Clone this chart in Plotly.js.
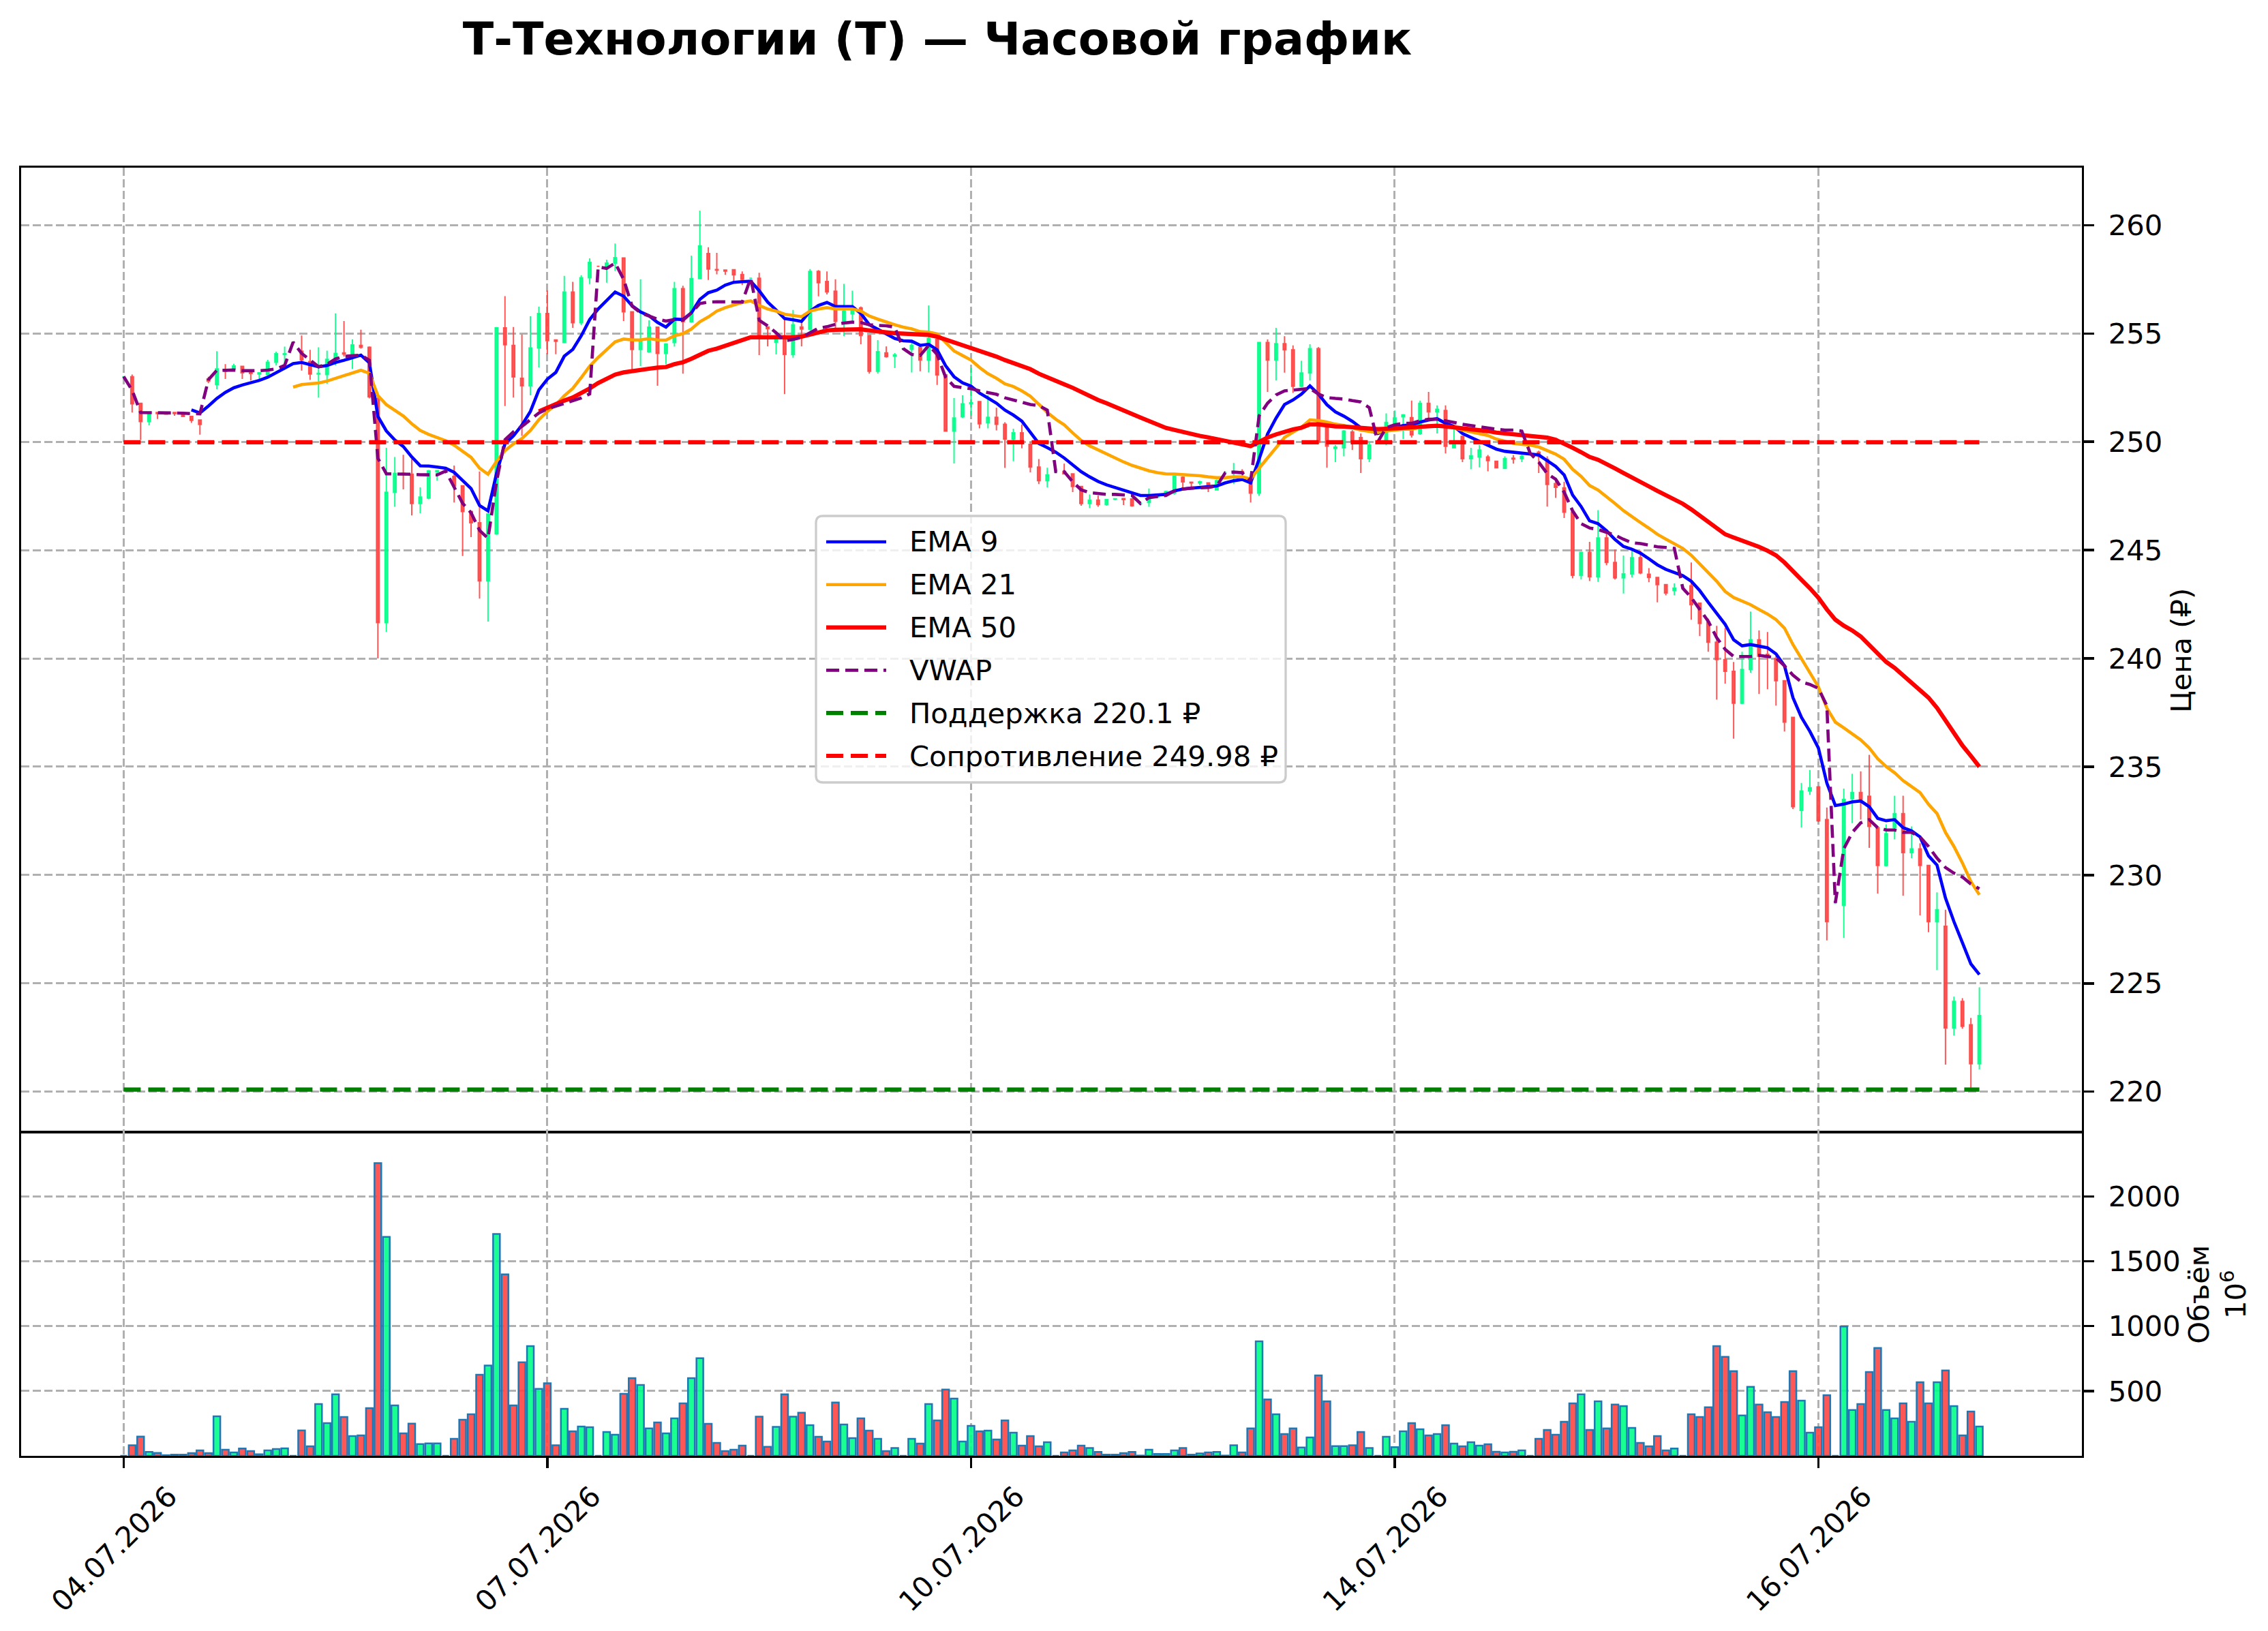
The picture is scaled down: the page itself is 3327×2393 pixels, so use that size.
<!DOCTYPE html>
<html><head><meta charset="utf-8">
<script src="https://cdn.plot.ly/plotly-3.0.1.min.js"></script>
<style>html,body{margin:0;padding:0;background:#fff}#chart{width:3327px;height:2393px}</style>
</head><body><div id="chart"></div>
<script>
// ---------------- DATA ----------------
const tickIndex = [0, 50, 100, 150, 200];
const tickLabels = ['04.07.2026', '07.07.2026', '10.07.2026', '14.07.2026', '16.07.2026'];
const priceTicks = [220, 225, 230, 235, 240, 245, 250, 255, 260];
const volumeTicks = [500, 1000, 1500, 2000];

const openP = [253.0,253.0,251.77,250.93,251.35,251.33,251.35,251.3,251.17,251.0,
252.9,252.64,253.3,253.36,253.48,253.2,253.13,253.1,253.67,254.03,
254.6,254.18,253.7,253.13,253.1,253.8,254.1,254.06,254.45,254.36,
252.0,241.65,247.67,248.54,248.5,247.15,247.4,248.62,248.6,248.4,
247.97,246.78,246.26,243.58,245.75,255.26,254.45,252.93,252.58,254.33,
255.92,254.7,254.58,256.91,255.49,257.57,258.1,258.09,258.25,258.48,
256.0,254.26,254.16,255.29,254.08,254.58,257.07,255.54,257.53,258.69,
257.95,257.92,257.94,257.72,257.55,257.55,255.3,254.6,254.87,254.03,
255.3,255.19,257.86,257.4,256.95,255.56,255.9,256.18,254.9,253.25,
254.1,253.95,254.3,254.27,254.35,253.77,254.72,253.09,250.49,251.15,
251.76,251.85,250.88,251.13,250.81,250.12,250.41,249.88,248.83,248.2,
248.62,248.63,248.52,247.94,247.15,247.31,247.1,247.35,247.38,247.36,
247.15,247.2,247.45,247.65,247.63,248.36,248.13,248.1,248.1,247.78,
248.57,248.55,248.63,248.1,247.63,254.58,253.77,254.53,254.24,252.56,
253.17,254.3,250.65,249.7,249.72,250.45,250.19,249.22,249.95,249.99,
250.85,251.15,251.11,250.38,251.77,251.38,251.44,249.72,250.25,249.22,
249.3,249.3,249.1,248.77,249.24,249.22,249.46,249.52,249.19,248.07,
247.87,246.75,243.84,244.89,243.77,245.56,244.43,243.72,243.9,244.65,
243.89,243.74,243.41,243.13,243.3,243.35,242.55,241.68,240.75,239.95,
239.4,237.93,239.49,240.86,240.19,239.99,238.97,237.28,232.99,233.88,
234.07,232.56,228.7,228.61,233.53,233.81,233.64,232.19,230.45,232.19,
232.84,231.04,231.21,230.45,227.85,227.64,222.94,224.17,223.09,221.29];

const highP = [253.0,253.1,251.8,251.3,251.38,251.36,251.37,251.33,251.2,251.03,
253.0,254.18,253.58,253.6,253.5,253.22,253.2,253.78,254.16,254.39,
254.6,254.9,254.24,254.36,254.2,255.93,255.57,254.72,255.17,254.4,
252.1,249.72,249.3,249.4,249.2,247.9,248.7,248.7,248.6,248.9,
248.0,246.8,248.63,246.7,255.3,256.72,255.3,254.95,255.79,256.23,
256.98,254.7,257.66,257.38,257.69,258.47,258.1,258.4,259.15,258.5,
256.0,257.5,255.6,255.3,254.55,257.38,257.2,258.59,260.67,258.98,
258.72,257.95,257.95,257.86,257.55,257.8,255.32,254.98,255.66,256.08,
255.6,257.97,257.92,257.86,257.5,257.29,256.97,256.24,254.9,254.69,
254.4,254.09,254.3,254.56,254.45,256.29,254.98,253.1,252.02,252.14,
253.4,251.88,252.15,251.57,250.9,250.6,250.8,249.99,249.2,248.8,
248.62,248.99,248.55,247.96,247.57,247.52,247.36,247.4,247.4,247.38,
247.15,247.84,247.5,247.74,248.41,248.41,248.15,248.2,248.12,248.26,
248.57,249.02,248.73,248.26,254.61,254.72,255.26,254.87,254.45,253.74,
254.5,254.37,250.65,249.85,250.54,250.54,250.38,249.99,249.95,251.31,
251.44,251.28,251.9,251.9,252.3,251.68,251.68,250.71,250.26,249.72,
249.85,249.39,249.12,249.33,249.38,249.39,249.46,249.59,249.33,248.27,
248.16,246.77,244.9,245.38,246.84,245.75,245.03,244.75,244.97,244.97,
244.17,243.76,243.43,243.46,243.3,244.43,242.56,241.83,241.5,241.4,
239.84,240.31,242.16,241.29,241.22,240.1,238.99,237.28,234.25,234.85,
234.07,233.12,228.7,233.99,234.68,234.79,235.55,232.2,232.34,233.66,
233.66,232.25,231.47,230.46,229.2,228.4,224.39,224.32,223.41,224.82];

const lowP = [253.0,251.35,250.08,250.75,251.05,251.25,251.2,251.15,250.87,250.33,
252.7,252.43,252.9,253.3,252.9,252.83,252.9,253.04,253.52,253.58,
254.6,253.28,252.86,252.04,252.67,253.52,253.94,253.36,254.3,252.0,
240.0,241.23,247.0,247.8,246.6,246.7,247.35,248.2,248.6,247.2,
244.73,245.6,242.76,241.7,245.7,251.65,252.04,250.27,252.14,253.43,
254.04,254.04,254.58,255.26,255.39,257.28,258.1,257.34,257.88,255.57,
253.33,253.5,254.1,252.58,253.58,254.39,253.14,255.49,257.5,257.47,
257.73,257.7,257.4,257.23,257.55,254.0,254.4,254.03,252.2,253.88,
254.4,255.14,256.71,256.8,255.17,254.87,255.5,254.5,253.14,253.14,
253.88,253.4,254.3,253.2,253.25,253.2,252.62,250.47,249.0,251.1,
251.2,250.62,250.62,250.52,248.79,249.1,249.7,248.59,248.05,247.9,
248.62,248.5,247.68,247.05,246.94,247.0,247.05,247.3,247.08,247.0,
247.15,247.0,247.4,247.6,247.57,247.84,247.84,248.0,247.68,247.75,
248.57,248.05,248.42,247.2,247.5,252.3,252.83,253.19,252.25,252.51,
252.83,249.9,248.8,249.06,249.33,249.62,248.56,249.06,249.95,249.85,
250.8,250.12,250.19,250.32,251.05,250.38,249.46,249.7,249.06,248.73,
248.82,248.64,248.77,248.75,248.99,249.06,249.46,248.56,247.01,247.41,
246.48,243.7,243.64,243.57,243.53,244.3,243.64,243.0,243.74,243.89,
243.52,242.59,242.91,242.91,243.3,241.79,241.03,240.31,238.1,238.84,
236.3,237.89,239.34,238.36,238.58,237.82,236.63,233.05,232.19,233.7,
232.45,226.99,228.7,227.1,232.4,232.56,231.26,229.15,230.4,231.65,
229.05,230.78,228.14,227.36,225.62,221.25,222.59,222.91,220.16,221.03];

const closeP = [253.0,251.75,250.93,251.3,251.3,251.28,251.3,251.17,250.99,250.8,
252.8,253.36,253.25,253.5,253.18,253.15,253.18,253.67,254.06,254.06,
254.6,253.78,253.13,253.16,253.8,254.08,254.05,254.47,254.36,252.07,
241.65,247.67,248.54,248.5,247.15,247.45,248.65,248.67,248.6,247.97,
246.78,246.26,243.58,246.66,255.26,254.48,252.99,252.58,254.33,255.92,
254.67,254.64,256.91,255.49,257.57,258.28,258.1,258.25,258.5,256.0,
254.26,254.7,255.29,254.08,254.51,257.07,255.54,257.53,259.04,257.97,
257.92,257.88,257.7,257.5,257.55,254.87,255.22,254.7,254.03,255.4,
255.2,257.86,257.34,256.92,255.56,256.03,256.1,254.9,253.25,254.16,
253.93,254.01,254.3,254.45,253.77,254.77,253.09,250.49,251.1,251.75,
251.8,250.83,251.13,250.81,250.12,250.41,250.02,248.83,248.2,248.47,
248.62,248.52,247.94,247.15,247.31,247.1,247.33,247.37,247.33,247.05,
247.15,247.47,247.5,247.7,248.41,248.15,248.1,248.15,247.94,248.2,
248.57,248.6,248.58,247.63,254.58,253.77,254.53,254.24,252.56,253.17,
254.3,249.99,249.8,249.75,250.49,249.99,249.22,249.85,249.95,250.89,
251.1,251.24,250.32,251.77,251.38,251.5,249.79,249.85,249.22,249.35,
249.62,249.13,248.8,249.22,249.2,249.33,249.46,249.33,248.03,247.9,
246.75,243.84,244.89,243.77,245.56,244.43,243.72,243.9,244.65,243.95,
243.74,243.41,243.02,243.24,243.3,242.48,241.61,240.75,239.95,239.4,
237.93,239.49,240.86,240.1,240.1,238.97,237.06,233.16,233.88,234.03,
232.51,227.85,228.7,233.49,233.81,233.49,232.25,230.45,231.91,232.84,
231.04,231.21,230.45,227.85,228.4,222.94,224.17,223.02,221.29,223.52];

// volume, millions
const volumeM = [0,82,149,30,23,5,9,9,21,42,
21,305,47,26,56,37,12,42,53,58,
0,196,74,400,253,474,300,153,158,368,
2258,1689,389,174,249,91,96,96,0,132,
279,321,626,696,1711,1400,389,721,847,516,
560,82,363,189,226,221,0,184,163,479,
600,547,211,258,174,289,405,600,753,247,
100,37,47,79,0,302,70,223,474,302,
332,237,147,111,411,242,137,289,195,132,
37,61,0,132,95,400,274,511,442,111,
232,189,195,126,274,179,79,153,74,105,
0,26,42,79,61,30,9,9,21,30,
2,47,14,14,42,61,9,19,26,30,
2,82,26,211,883,435,321,168,211,65,
142,621,421,75,75,82,184,61,0,147,
67,189,253,205,158,168,237,95,74,105,
79,89,32,26,32,42,0,132,200,163,
263,405,474,200,421,211,395,384,216,100,
74,153,42,56,0,321,300,374,847,763,
653,311,532,395,337,300,416,653,426,179,
221,468,0,998,353,400,647,832,353,289,
405,263,568,405,568,658,384,158,342,226];

const ema9Start = 8;
const ema9 = [251.47,251.33,
251.65,252.0,252.28,252.49,252.62,252.73,252.83,252.98,253.2,253.4,
253.61,253.66,253.55,253.46,253.52,253.66,253.76,253.88,254.0,253.64,
251.17,250.5,250.08,249.78,249.3,248.89,248.88,248.83,248.78,248.59,
248.22,247.84,247.06,246.81,248.53,249.9,250.27,250.77,251.4,252.39,
252.89,253.2,253.95,254.26,254.89,255.64,256.13,256.51,256.91,256.72,
256.28,255.99,255.82,255.51,255.29,255.66,255.64,255.95,256.57,256.88,
257.0,257.23,257.36,257.39,257.41,256.97,256.45,256.08,255.69,255.63,
255.56,256.03,256.29,256.43,256.24,256.24,256.24,255.92,255.4,255.19,
254.98,254.77,254.66,254.64,254.45,254.5,254.24,253.51,253.0,252.72,
252.57,252.25,252.02,251.78,251.46,251.23,250.95,250.46,249.92,249.73,
249.52,249.25,248.94,248.62,248.38,248.17,248.01,247.89,247.76,247.63,
247.52,247.52,247.54,247.57,247.73,247.82,247.86,247.89,247.91,247.96,
248.1,248.2,248.26,248.1,249.2,250.36,251.09,251.72,251.93,252.2,
252.58,252.2,251.71,251.38,251.18,250.94,250.65,250.52,250.38,250.52,
250.65,250.75,250.78,250.91,251.0,251.07,250.85,250.71,250.38,250.19,
250.01,249.85,249.66,249.56,249.52,249.48,249.46,249.39,249.13,248.86,
248.47,247.54,247.01,246.35,246.22,245.89,245.49,245.17,245.04,244.86,
244.6,244.32,244.11,243.95,243.82,243.56,243.13,242.59,242.09,241.57,
240.86,240.58,240.64,240.58,240.49,240.21,239.66,238.19,237.28,236.63,
235.87,234.25,233.21,233.28,233.38,233.42,233.16,232.62,232.51,232.56,
232.19,232.04,231.76,230.89,230.46,228.94,227.85,226.88,225.9,225.41];

const ema21Start = 20;
const ema21 = [252.52,252.64,252.68,252.71,252.8,252.92,253.04,253.17,253.3,253.16,
252.13,251.71,251.47,251.19,250.83,250.52,250.34,250.21,250.05,249.84,
249.55,249.28,248.78,248.5,249.09,249.59,249.9,250.15,250.52,251.02,
251.4,251.71,252.12,252.46,252.96,253.49,253.89,254.26,254.61,254.74,
254.7,254.7,254.76,254.7,254.69,254.89,254.99,255.2,255.54,255.76,
256.03,256.19,256.32,256.43,256.5,256.29,256.13,256.03,255.89,255.84,
255.77,256.03,256.13,256.19,256.13,256.13,256.13,256.03,255.8,255.66,
255.52,255.4,255.29,255.21,255.08,255.06,254.98,254.58,254.19,253.98,
253.77,253.43,253.14,252.93,252.67,252.55,252.35,252.1,251.72,251.36,
251.04,250.78,250.41,250.06,249.81,249.62,249.41,249.22,249.07,248.91,
248.78,248.66,248.57,248.52,248.51,248.49,248.47,248.43,248.38,248.34,
248.34,248.38,248.38,248.28,248.78,249.25,249.73,250.2,250.44,250.67,
251.01,250.98,250.91,250.81,250.75,250.65,250.54,250.48,250.42,250.49,
250.54,250.58,250.58,250.67,250.74,250.75,250.7,250.65,250.54,250.45,
250.38,250.29,250.12,250.01,249.93,249.88,249.85,249.76,249.59,249.43,
249.19,248.73,248.4,247.98,247.77,247.48,247.15,246.82,246.53,246.27,
246.01,245.73,245.51,245.3,245.08,244.76,244.37,243.95,243.56,243.09,
242.81,242.65,242.48,242.26,242.05,241.79,241.4,240.64,239.99,239.34,
238.69,237.71,237.06,236.8,236.52,236.24,235.87,235.37,235.01,234.72,
234.36,234.07,233.81,233.27,232.84,231.97,231.32,230.56,229.7,229.09];

const ema50Start = 49;
const ema50 = [251.4,
251.58,251.71,251.9,252.04,252.24,252.46,252.71,252.89,253.1,253.2,
253.27,253.3,253.37,253.42,253.45,253.58,253.67,253.83,254.04,254.2,
254.3,254.43,254.58,254.72,254.82,254.82,254.82,254.82,254.8,254.82,
254.85,254.96,255.06,255.14,255.17,255.19,255.21,255.19,255.14,255.08,
255.05,255.01,254.98,254.96,254.93,254.93,254.85,254.72,254.58,254.45,
254.35,254.19,254.06,253.93,253.77,253.64,253.5,253.35,253.14,252.96,
252.8,252.65,252.49,252.3,252.09,251.93,251.78,251.6,251.44,251.28,
251.12,250.97,250.8,250.64,250.55,250.44,250.36,250.27,250.2,250.12,
250.04,249.96,249.88,249.8,249.99,250.2,250.34,250.48,250.57,250.65,
250.8,250.8,250.75,250.71,250.7,250.67,250.62,250.58,250.58,250.6,
250.62,250.65,250.65,250.69,250.71,250.74,250.71,250.67,250.62,250.58,
250.54,250.49,250.42,250.38,250.34,250.3,250.28,250.25,250.19,250.09,
249.92,249.72,249.52,249.3,249.17,248.99,248.77,248.56,248.37,248.16,
247.94,247.73,247.53,247.36,247.14,246.88,246.6,246.34,246.06,245.73,
245.58,245.45,245.3,245.15,244.97,244.76,244.43,244.0,243.63,243.24,
242.8,242.26,241.79,241.51,241.29,241.01,240.64,240.21,239.84,239.56,
239.23,238.91,238.58,238.19,237.72,237.11,236.52,235.98,235.5,235.0];

const vwap = [253.01,252.37,251.35,251.35,251.32,251.32,251.32,251.32,251.3,251.29,
252.86,253.3,253.3,253.31,253.28,253.27,253.28,253.31,253.36,253.52,
254.6,254.08,253.76,253.46,253.58,253.82,253.94,253.96,254.0,253.76,
249.24,248.52,248.52,248.52,248.5,248.48,248.47,248.47,248.65,247.9,
247.16,246.72,245.91,245.54,248.15,250.09,250.46,250.71,251.02,251.33,
251.52,251.65,251.77,251.9,252.02,252.21,258.07,258.0,258.25,257.5,
256.26,255.95,255.82,255.66,255.57,255.64,255.61,255.95,256.38,256.45,
256.46,256.45,256.45,256.45,257.55,255.61,255.35,255.03,254.66,254.72,
254.82,255.03,255.24,255.31,255.42,255.48,255.52,255.5,255.4,255.37,
255.35,255.29,254.3,254.03,253.98,254.45,254.03,252.98,252.56,252.5,
252.45,252.35,252.26,252.19,252.03,251.93,251.84,251.72,251.67,251.46,
248.62,248.62,248.15,247.78,247.65,247.6,247.57,247.57,247.55,247.52,
247.15,247.42,247.47,247.52,247.73,247.82,247.86,247.89,247.89,247.96,
248.57,248.6,248.57,248.2,251.2,251.78,252.16,252.35,252.38,252.4,
252.46,252.2,252.04,252.0,251.97,251.9,251.84,251.57,249.99,250.65,
250.78,250.85,250.85,250.98,251.04,251.04,250.95,250.89,250.81,250.75,
250.67,250.62,250.58,250.54,250.54,250.49,249.46,249.06,248.53,248.27,
247.67,246.81,246.22,246.02,245.95,245.82,245.69,245.5,245.34,245.3,
245.23,245.15,245.12,245.08,243.24,242.81,242.26,241.72,240.96,240.42,
240.09,240.09,240.09,240.14,240.09,240.03,239.66,239.23,238.91,238.8,
238.62,237.82,228.72,231.21,231.97,232.41,232.56,232.19,232.08,232.08,
231.97,231.97,231.76,231.32,230.78,230.35,230.09,229.91,229.59,229.37];

const supportLevel = 220.1;
const resistanceLevel = 249.98;
const seriesNames = ['EMA 9', 'EMA 21', 'EMA 50', 'VWAP'];

// ---------------- DRAWING ----------------
const FONT = 'DejaVu Sans, Arial, sans-serif';
const W = 3327, H = 2393;
const M = {l: 31, r: 273, t: 246, b: 257};
const PW = W - M.l - M.r, PH = H - M.t - M.b;
const split = 0.2505;
const UP = 'rgba(0,255,136,0.9)', DOWN = 'rgba(255,68,68,0.9)';
const GRID = '#b0b0b0';
const TICKFONT = {family: FONT, size: 41.7, color: '#000'};

const idx = openP.map((_, i) => i);
const xFrom = (arr, s) => arr.map((_, k) => k + s);
const lastI = idx[idx.length - 1];

const traces = [
  {type: 'candlestick', x: idx, open: openP, high: highP, low: lowP, close: closeP,
   xaxis: 'x2', yaxis: 'y', whiskerwidth: 0, showlegend: false, hoverinfo: 'skip',
   increasing: {line: {color: UP, width: 2}, fillcolor: UP},
   decreasing: {line: {color: DOWN, width: 2}, fillcolor: DOWN}},
  {type: 'bar', x: idx, y: volumeM, xaxis: 'x', yaxis: 'y2', width: 0.8, showlegend: false,
   hoverinfo: 'skip',
   marker: {color: idx.map(i => closeP[i] >= openP[i] ? UP : DOWN), line: {color: '#1f77b4', width: 2.5}}},
  {type: 'scatter', mode: 'lines', x: xFrom(ema9, ema9Start), y: ema9, xaxis: 'x2', yaxis: 'y',
   line: {color: '#0000ff', width: 4.6}, showlegend: false, hoverinfo: 'skip'},
  {type: 'scatter', mode: 'lines', x: xFrom(ema21, ema21Start), y: ema21, xaxis: 'x2', yaxis: 'y',
   line: {color: '#ffa500', width: 4.6}, showlegend: false, hoverinfo: 'skip'},
  {type: 'scatter', mode: 'lines', x: xFrom(ema50, ema50Start), y: ema50, xaxis: 'x2', yaxis: 'y',
   line: {color: '#ff0000', width: 6.2}, showlegend: false, hoverinfo: 'skip'},
  {type: 'scatter', mode: 'lines', x: idx, y: vwap, xaxis: 'x2', yaxis: 'y',
   line: {color: '#800080', width: 4.6, dash: '19px,9px'}, showlegend: false, hoverinfo: 'skip'},
  {type: 'scatter', mode: 'lines', x: [0, lastI], y: [supportLevel, supportLevel], xaxis: 'x2', yaxis: 'y',
   line: {color: '#008000', width: 6.2, dash: '25px,11px'}, showlegend: false, hoverinfo: 'skip'},
  {type: 'scatter', mode: 'lines', x: [0, lastI], y: [resistanceLevel, resistanceLevel], xaxis: 'x2', yaxis: 'y',
   line: {color: '#ff0000', width: 6.2, dash: '25px,11px'}, showlegend: false, hoverinfo: 'skip'}
];

// manual legend (matplotlib-like)
const px2x = px => (px - M.l) / PW;
const py2y = py => (H - M.b - py) / PH;
function roundRect(x0p, y0p, x1p, y1p, r) {
  const x0 = px2x(x0p), x1 = px2x(x1p), yt = py2y(y0p), yb = py2y(y1p);
  const rx = r / PW, ry = r / PH;
  return `M${x0 + rx},${yt} L${x1 - rx},${yt} Q${x1},${yt} ${x1},${yt - ry} L${x1},${yb + ry} Q${x1},${yb} ${x1 - rx},${yb} L${x0 + rx},${yb} Q${x0},${yb} ${x0},${yb + ry} L${x0},${yt - ry} Q${x0},${yt} ${x0 + rx},${yt} Z`;
}
const legendItems = [
  {label: seriesNames[0], color: '#0000ff', width: 4.6, dash: 'solid'},
  {label: seriesNames[1], color: '#ffa500', width: 4.6, dash: 'solid'},
  {label: seriesNames[2], color: '#ff0000', width: 6.2, dash: 'solid'},
  {label: seriesNames[3], color: '#800080', width: 4.6, dash: '19px,9px'},
  {label: 'Поддержка ' + supportLevel + ' ₽', color: '#008000', width: 6.2, dash: '25px,11px'},
  {label: 'Сопротивление ' + resistanceLevel + ' ₽', color: '#ff0000', width: 6.2, dash: '25px,11px'}
];
const LEG = {x0: 1197, y0: 757, x1: 1886, y1: 1148, hx0: 1212, hx1: 1300, tx: 1332, row0: 795, rowStep: 62.8};
const shapes = [{type: 'path', xref: 'paper', yref: 'paper', path: roundRect(LEG.x0, LEG.y0, LEG.x1, LEG.y1, 10),
  fillcolor: 'rgba(255,255,255,0.8)', line: {color: '#cccccc', width: 3.3}, layer: 'above'}];
const annotations = [];
legendItems.forEach((it, k) => {
  const yy = py2y(LEG.row0 + k * LEG.rowStep);
  shapes.push({type: 'line', xref: 'paper', yref: 'paper', x0: px2x(LEG.hx0), x1: px2x(LEG.hx1), y0: yy, y1: yy,
    line: {color: it.color, width: it.width, dash: it.dash}, layer: 'above'});
  annotations.push({xref: 'paper', yref: 'paper', x: px2x(LEG.tx), y: yy, xanchor: 'left', yanchor: 'middle',
    text: it.label, showarrow: false, font: {family: FONT, size: 41.7, color: '#000'}});
});

const axisCommon = {showline: true, mirror: true, linecolor: '#000', linewidth: 3.3, zeroline: false,
  showgrid: true, gridcolor: GRID, gridwidth: 3, griddash: '12px,5px', tickfont: TICKFONT};

const layout = {
  width: W, height: H, margin: M, paper_bgcolor: '#fff', plot_bgcolor: '#fff', showlegend: false,
  font: {family: FONT, color: '#000'},
  title: {text: '<b>Т-Технологии (T) — Часовой график</b>', x: 1375 / W, xref: 'container', xanchor: 'center',
    y: 1 - 57 / H, yref: 'container', yanchor: 'middle', font: {family: FONT, size: 66.7, color: '#000'}},
  boxgap: 0.55,
  xaxis: Object.assign({}, axisCommon, {domain: [0, 1], anchor: 'y2', range: [-12.1, 231.1],
    tickmode: 'array', tickvals: tickIndex, ticktext: tickLabels, tickangle: -45,
    ticks: 'outside', ticklen: 15, tickwidth: 3.3, tickcolor: '#000',
    ticklabelshift: 66, ticklabelstandoff: 0, rangeslider: {visible: false}}),
  xaxis2: Object.assign({}, axisCommon, {domain: [0, 1], anchor: 'y', matches: 'x', range: [-12.1, 231.1],
    side: 'top', mirror: false,
    tickmode: 'array', tickvals: tickIndex, showticklabels: false, ticks: '', rangeslider: {visible: false}}),
  yaxis: Object.assign({}, axisCommon, {domain: [split, 1], anchor: 'x2', side: 'right', range: [218.09, 262.65],
    tickmode: 'array', tickvals: priceTicks, ticks: 'outside', ticklen: 15, tickwidth: 3.3, tickcolor: '#000',
    ticklabelstandoff: 12,
    title: {text: 'Цена (₽)', font: {family: FONT, size: 41.7, color: '#000'}, standoff: 14}}),
  yaxis2: Object.assign({}, axisCommon, {domain: [0, split], anchor: 'x', side: 'right', range: [0, 2489],
    tickmode: 'array', tickvals: volumeTicks, ticks: 'outside', ticklen: 15, tickwidth: 3.3, tickcolor: '#000',
    ticklabelstandoff: 12,
    title: {text: 'Объём<br>10<sup>6</sup>', font: {family: FONT, size: 41.7, color: '#000'}, standoff: 14}}),
  shapes: shapes,
  annotations: annotations
};

Plotly.newPlot('chart', traces, layout, {staticPlot: true, displayModeBar: false});
</script>
</body></html>
